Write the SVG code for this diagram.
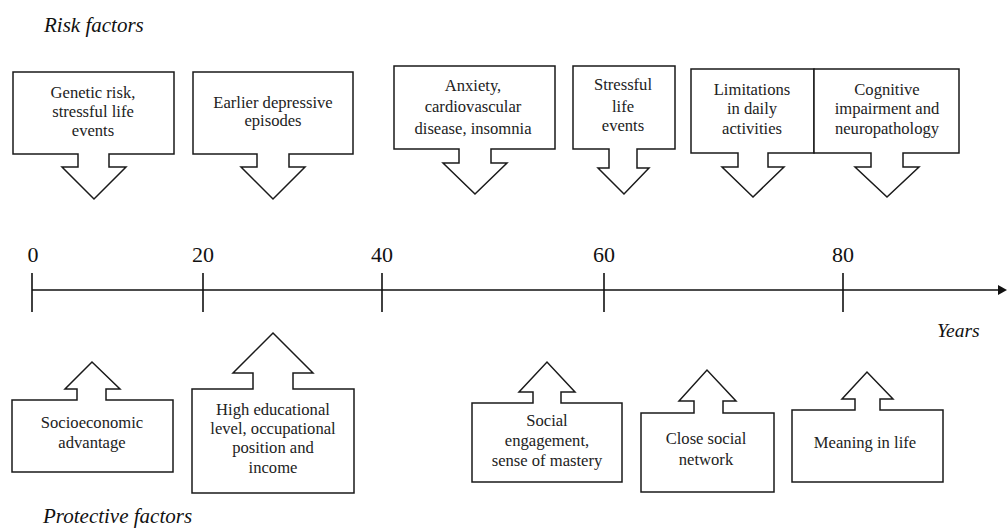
<svg xmlns="http://www.w3.org/2000/svg" width="1007" height="530" viewBox="0 0 1007 530">
<style>
.lbl{font-family:'Liberation Serif','Times New Roman',serif;font-size:16.6px;fill:#222;text-anchor:middle}
.box{fill:#fff;stroke:#1a1a1a;stroke-width:1.5;stroke-linejoin:miter}
.ax{stroke:#111;stroke-width:1.6;fill:none}
.num{font-family:'Liberation Serif','Times New Roman',serif;font-size:22px;fill:#111;text-anchor:middle}
.it{font-family:'Liberation Serif','Times New Roman',serif;font-style:italic;font-size:21px;fill:#111}
</style>
<text class="it" x="44" y="32">Risk factors</text>
<text class="it" x="43" y="523">Protective factors</text>
<text class="it" x="937" y="337" style="font-size:19.5px">Years</text>

<g id="timeline">
<line class="ax" x1="32" y1="290" x2="1000" y2="290"/>
<polygon points="998,285 1007,290 998,295" fill="#111"/>
<line class="ax" x1="32" y1="273" x2="32" y2="312"/>
<line class="ax" x1="203" y1="273" x2="203" y2="312"/>
<line class="ax" x1="382" y1="273" x2="382" y2="312"/>
<line class="ax" x1="604" y1="273" x2="604" y2="312"/>
<line class="ax" x1="843" y1="273" x2="843" y2="312"/>
<text class="num" x="33" y="262">0</text>
<text class="num" x="203" y="262">20</text>
<text class="num" x="382" y="262">40</text>
<text class="num" x="604" y="262">60</text>
<text class="num" x="843" y="262">80</text>
</g>

<g id="risk1">
<path class="box" d="M13,72 H174 V154 H109 V167 H126 L94,199 L62,167 H78 V154 H13 Z"/>
<text class="lbl" x="93" y="98">Genetic risk,</text>
<text class="lbl" x="93" y="117">stressful life</text>
<text class="lbl" x="93" y="136">events</text>
</g>
<g id="risk2">
<path class="box" d="M193,72 H353 V154 H289 V167 H305 L273,199 L241,167 H257 V154 H193 Z"/>
<text class="lbl" x="273" y="108">Earlier depressive</text>
<text class="lbl" x="273" y="126">episodes</text>
</g>
<g id="risk3">
<path class="box" d="M394,66 H555 V149 H491 V163 H507 L475,194 L443,163 H459 V149 H394 Z"/>
<text class="lbl" x="473" y="91">Anxiety,</text>
<text class="lbl" x="473" y="112">cardiovascular</text>
<text class="lbl" x="473" y="134">disease, insomnia</text>
</g>
<g id="risk4">
<path class="box" d="M573,66 H675 V149 H637 V168 H649 L624,194 L598,168 H609 V149 H573 Z"/>
<text class="lbl" x="623" y="90">Stressful</text>
<text class="lbl" x="623" y="112">life</text>
<text class="lbl" x="623" y="131">events</text>
</g>
<g id="risk5">
<path class="box" d="M691,69 H814 V153 H768 V167 H784 L753,197 L722,167 H738 V153 H691 Z"/>
<text class="lbl" x="752" y="95">Limitations</text>
<text class="lbl" x="752" y="114">in daily</text>
<text class="lbl" x="752" y="134">activities</text>
</g>
<g id="risk6">
<path class="box" d="M814,69 H959 V153 H903 V167 H919 L887,197 L855,167 H871 V153 H814 Z"/>
<text class="lbl" x="887" y="95">Cognitive</text>
<text class="lbl" x="887" y="114">impairment and</text>
<text class="lbl" x="887" y="134">neuropathology</text>
</g>

<g id="prot1">
<path class="box" d="M12,400 H77 V389 H65 L92,362 L120,389 H106 V400 H173 V472 H12 Z"/>
<text class="lbl" x="92" y="428">Socioeconomic</text>
<text class="lbl" x="92" y="448">advantage</text>
</g>
<g id="prot2">
<path class="box" d="M192,389 H253 V373 H233 L273,333 L313,373 H293 V389 H354 V493 H192 Z"/>
<text class="lbl" x="273" y="415">High educational</text>
<text class="lbl" x="273" y="434">level, occupational</text>
<text class="lbl" x="273" y="453">position and</text>
<text class="lbl" x="273" y="473">income</text>
</g>
<g id="prot3">
<path class="box" d="M472,403 H533 V392 H519 L547,362 L575,392 H561 V403 H622 V482 H472 Z"/>
<text class="lbl" x="547" y="426">Social</text>
<text class="lbl" x="547" y="446">engagement,</text>
<text class="lbl" x="547" y="466">sense of mastery</text>
</g>
<g id="prot4">
<path class="box" d="M641,413 H694 V401 H679 L707,370 L736,401 H723 V413 H774 V492 H641 Z"/>
<text class="lbl" x="706" y="444">Close social</text>
<text class="lbl" x="706" y="465">network</text>
</g>
<g id="prot5">
<path class="box" d="M792,410 H855 V399 H842 L867,372 L893,399 H880 V410 H943 V482 H792 Z"/>
<text class="lbl" x="865" y="448">Meaning in life</text>
</g>
</svg>
